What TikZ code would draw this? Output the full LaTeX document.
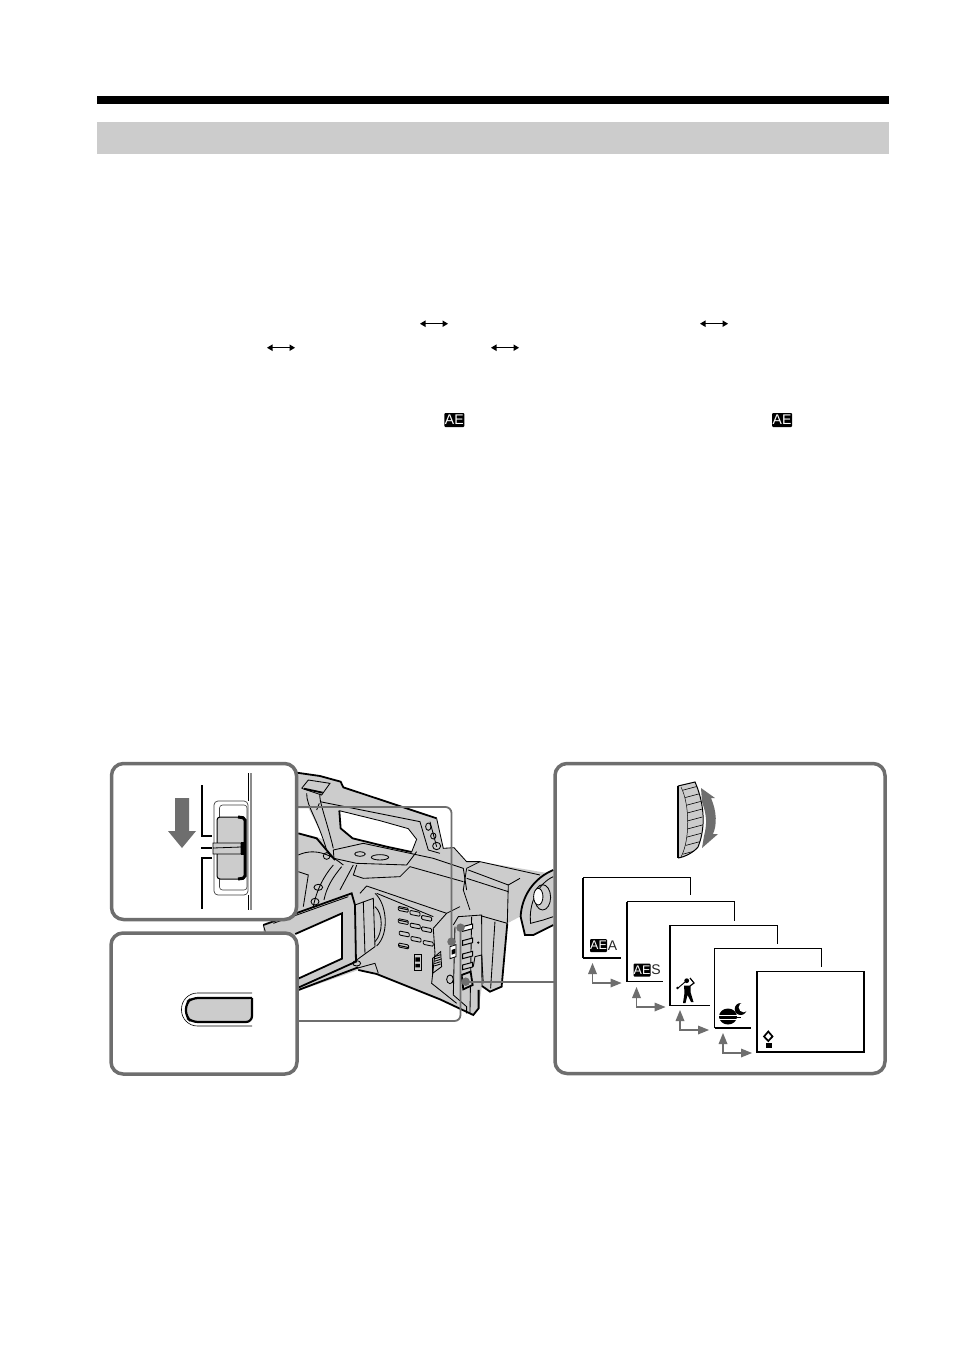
\documentclass[tikz,border=0pt]{standalone}
\usepackage{fontspec}
\setmainfont{Liberation Sans}
\usetikzlibrary{calc,positioning}
\definecolor{panelgray}{HTML}{6E6E6E}
\definecolor{bodygray}{HTML}{CCCCCC}
\tikzset{
  panel/.style    = {draw=panelgray, fill=white, line width=3.5pt, rounded corners=12pt},
  callout/.style  = {panelgray, line width=1.8pt, rounded corners=6pt},
  calldot/.style  = {circle, fill=panelgray, inner sep=0pt, minimum size=8.5pt},
  outline/.style  = {black, line width=.85pt},
  heavy/.style    = {black, line width=1.8pt},
  screen/.style   = {black, line width=1.1pt},
  screenleft/.style = {black, line width=1.9pt},
  elbow/.style    = {panelgray, line width=1.8pt},
  aetag/.style    = {fill=black, text=white, inner sep=0pt, rounded corners=1pt},
  aeletter/.style = {font=\fontsize{14}{14}\selectfont, inner sep=0pt, text=black!85},
  dblarrow/.style = {black, line width=1pt},
}
\begin{document}
\begin{tikzpicture}[x=1pt, y=-1pt]
    \useasboundingbox (0,0) rectangle (954,1352);
    \fill[black] (97,96) rectangle (889,103.5);
    \fill[black!20] (97,122) rectangle (889,154);

    % double arrows and tags in the running text
    \foreach \px/\py in {434/323.7, 714/323.7, 281/347.7, 505/347.7} {
        \draw[dblarrow] (\px-12,\py) -- (\px+12,\py);
        \fill (\px-14,\py) -- ++(5.5,-3.3) -- ++(0,6.6) -- cycle
              (\px+14,\py) -- ++(-5.5,-3.3) -- ++(0,6.6) -- cycle;
    }
    \node[aetag, minimum width=20pt, minimum height=14pt, font=\fontsize{14}{14}\selectfont] (tagleft)  at (454.3,420) {AE};
    \node[aetag, minimum width=20pt, minimum height=14pt, font=\fontsize{14}{14}\selectfont] (tagright) at (782,420) {AE};

    % camera, traced in thirds of a pixel
    \begin{scope}[shift={(100,750)}, x=.3333pt, y=-.3333pt]
        \fill[bodygray] (590,68) -- (660,78) -- (722,95) -- (730,112) -- (1010,205)
            -- (1020,250) -- (1030,295) -- (1062,293) -- (1100,335) -- (1140,335)
            -- (1360,372) -- (1360,525) -- (1300,555) -- (1275,555) -- (1260,500)
            -- (1222,520) -- (1205,710) -- (1170,725) -- (1146,708) -- (1136,775)
            -- (1120,795) -- (1020,748) -- (830,672) -- (775,660) -- (590,725) -- cycle;
        \fill[bodygray] (490,525) -- (755,430) -- (770,640) -- (590,725) -- (490,570) -- cycle;
        % white openings
        \fill[white] (590,175) -- (625,175) -- (645,215) -- (672,268) -- (640,258)
            -- (590,248) -- cycle;
        \fill[white] (718,182) -- (722,235) -- (758,265) -- (860,290) -- (935,306)
            -- (950,268) -- (925,236) -- (840,212) -- cycle;
        \fill[white] (586,552) -- (726,490) -- (726,626) -- (586,690) -- cycle;
        % silhouette
        \draw[heavy] (590,68) -- (660,78) -- (722,95) -- (730,112) -- (1010,205);
        \draw[outline] (1010,205) -- (1020,250) -- (1030,295) -- (1062,293) -- (1100,335)
            -- (1140,335) -- (1320,375);
        \draw[heavy] (1222,520) -- (1205,710) -- (1170,725) -- (1146,708);
        \draw[heavy] (1136,720) -- (1136,775) -- (1120,795) -- (1020,748) -- (830,672)
            -- (775,660);
        % shoe
        \draw[outline] (605,115) -- (625,90) -- (690,100) -- (665,135) -- (605,115);
        \draw[heavy] (612,116) -- (668,128);
        % handle
        \draw[outline] (620,130) .. controls (620,170) and (650,200) .. (680,300);
        \draw[outline] (660,130) .. controls (655,150) and (680,210) .. (700,295);
        \draw[outline] (660,155) -- (960,215) -- (985,300) -- (1020,310);
        \draw[outline] (650,180) -- (658,160);
        \draw[heavy] (718,182) -- (722,235) -- (758,265) -- (860,290) -- (935,306);
        \draw[outline] (935,306) -- (950,268) -- (925,236) -- (840,212) -- (718,182);
        \draw[outline] (990,215) -- (1010,290);
        \draw[outline] (985,230) ellipse (8 and 11) (1000,258) ellipse (8 and 9) (1010,288) ellipse (12 and 11);
        \draw[outline] (680,318) circle (10);
        % top plate
        \draw[outline] (700,300) -- (790,280) -- (1000,325) -- (1090,355) -- (1100,420);
        \draw[outline] (700,300) -- (702,325) -- (770,340) -- (920,345) -- (950,305);
        \draw[outline] (770,345) -- (760,375) -- (790,385) -- (900,380) -- (930,350) -- (1090,395);
        \draw[outline] (780,312) ellipse (16 and 7) (840,322) ellipse (26 and 8);
        % lens
        \draw[heavy] (595,250) -- (650,265) -- (705,330);
        \draw[outline] (595,315) .. controls (650,290) and (700,320) .. (730,345);
        \draw[outline] (700,345) .. controls (670,380) and (650,420) .. (640,470);
        \draw[outline] (725,350) .. controls (700,380) and (680,410) .. (672,450);
        \draw[outline] (595,365) -- (625,375) -- (610,470);
        \draw[outline] (655,412) ellipse (13 and 9) (645,455) ellipse (12 and 10);
        \draw[outline] (760,345) -- (720,420);
        % finder
        \draw[outline] (1100,355) -- (1090,420) -- (1110,480);
        \draw[outline] (1100,385) -- (1225,425) (1105,360) -- (1225,405) -- (1260,385);
        \draw[outline] (1140,335) -- (1100,355);
        \draw[outline] (1225,405) -- (1222,520);
        \draw[outline] (1145,498) -- (1222,520);
        % eyecup
        \fill[bodygray] (1360,360) .. controls (1300,385) and (1265,440) .. (1262,500)
            -- (1275,555) -- (1300,555) -- (1360,525) -- cycle;
        \draw[heavy] (1360,360) .. controls (1300,385) and (1265,440) .. (1262,500)
            -- (1275,555) -- (1300,555) -- (1360,525);
        \draw[outline] (1360,380) .. controls (1315,400) and (1285,460) .. (1292,520)
            -- (1330,510) -- (1360,500);
        \draw[outline] (1328,442) ellipse (24 and 38);
        \fill[white] (1315,440) ellipse (14 and 25);
        \draw[outline] (1315,440) ellipse (14 and 25);
        % rear panel
        \draw[outline] (780,430) -- (800,408) -- (1040,490) -- (1080,470);
        \draw[outline] (1000,535) -- (1040,490);
        \draw[outline] (1000,535) -- (1005,610);
        \draw[outline] (830,430) -- (1000,500);
        \draw[outline] (825,430) .. controls (860,460) and (870,550) .. (830,588);
        \draw[outline] (825,470) .. controls (850,490) and (850,550) .. (825,575);
        % side grip
        \draw[outline] (1005,610) -- (995,700) -- (1070,760);
        \draw[outline] (1060,525) -- (1075,500) -- (1145,495) -- (1146,708);
        \draw[outline] (1065,530) -- (1060,735) -- (1100,770) -- (1100,790);
        \draw[outline] (1115,500) -- (1110,790);
        \draw[outline] (1185,515) -- (1172,715);
        \draw[outline] (1120,650) -- (1125,620) -- (1145,615) -- (1150,700);
        % buttons
        \foreach \bx/\by in {910/478, 945/490, 980/505, 910/515, 946/528, 980/539, 913/552, 948/568, 985/580, 911/588}
            \draw[outline, rounded corners=1pt] (\bx-15,\by-9) -- (\bx+15,\by-3)
                -- (\bx+15,\by+9) -- (\bx-15,\by+3) -- cycle;
        \fill (896,472) -- (924,478) -- (924,481) -- (896,475) -- cycle
              (896,509) -- (924,515) -- (924,518) -- (896,512) -- cycle
              (897,585) -- (925,591) -- (925,594) -- (897,588) -- cycle;
        \draw[outline] (942,612) rectangle (964,660);
        \fill (946,622) rectangle (960,635) (946,642) rectangle (960,652);
        \draw[outline] (998,625) -- (1022,605) -- (1025,650) -- (998,670) -- cycle;
        \foreach \gy in {620,627,...,650}
            \draw[outline] (1003,\gy) -- (1022,\gy-6);
        \draw[outline] (1050,688) ellipse (10 and 13);
        \fill[white, draw=black, line width=.85pt] (1050,590) -- (1068,584) -- (1068,620) -- (1050,626) -- cycle;
        \fill (1055,600) -- (1066,596) -- (1066,610) -- (1055,614) -- cycle;
        % right hand keys
        \foreach \ky/\kfill in {530/white,572/bodygray,612/bodygray,645/bodygray}
            \draw[fill=\kfill, line width=1pt] (1088,\ky) -- (1118,\ky-8)
                -- (1118,\ky+6) -- (1088,\ky+14) -- cycle;
        \draw[heavy, fill=bodygray] (1085,675) -- (1112,665) -- (1118,705) -- (1090,718) -- cycle;
        \draw[outline] (1135,578) circle (2);
        % lcd panel
        \draw[heavy] (490,525) -- (755,430) -- (765,465) -- (768,635) -- (597,712);
        \draw[outline] (520,520) -- (745,440);
        \draw[heavy] (586,552) -- (726,490) -- (726,626) -- (586,690);
        \draw[outline] (765,465) -- (820,445) -- (825,590) -- (770,630);
        \draw[outline] (790,455) -- (795,610);
        \draw[outline] (770,640) ellipse (12 and 8);
        \draw[outline] (770,655) -- (825,640) -- (835,670);
        \draw[heavy] (590,722) -- (775,652);
        \draw[outline] (490,525) -- (496,545);
    \end{scope}

    % callouts from the panels
    \coordinate (dotswitch) at (451.5,941.7);
    \coordinate (dotbutton) at (460.5,927.7);
    \coordinate (dotdial) at (465.7,981.7);
    \draw[callout] (297,807) -| (dotswitch);
    \draw[callout] (297,1021) -| (dotbutton);
    \draw[callout] (dotdial) -- (555,981.7);
    \node[calldot] (dota) at (dotswitch) {};
    \node[calldot] (dotb) at (dotbutton) {};
    \node[calldot] (dotc) at (dotdial) {};

    % panels
    \node[panel, minimum width=185pt, minimum height=156pt] (switchpanel) at (204,841.5) {};
    \node[panel, minimum width=186pt, minimum height=141pt] (buttonpanel) at (204,1003.5) {};
    \node[panel, minimum width=330pt, minimum height=310pt] (dialpanel) at (720,918.5) {};

    % switch
    \draw[black, line width=2.7pt] (202,785) -- (202,836) -- (212,836);
    \draw[black, line width=2.7pt] (201,848) -- (212,848);
    \draw[black, line width=2.7pt] (212,858) -- (202,858) -- (202,909);
    \draw[black, line width=.7pt] (248,773) -- (248,801);
    \draw[black!45, line width=1.2pt] (251,773) -- (251,910);
    \draw[black, line width=.7pt] (248,895) -- (248,910);
    \draw[black!75, line width=.7pt, rounded corners=4pt] (214,801) rectangle (248,895);
    \draw[black!75, line width=.6pt, rounded corners=3pt] (219.5,805) rectangle (247,890);
    \fill[bodygray, rounded corners=3pt] (217,817) rectangle (245,879);
    \draw[black, line width=1pt, rounded corners=3pt] (217,817) rectangle (245,879);
    \draw[black, line width=3pt, rounded corners=2pt] (238,817) -- (245,818) -- (245,878) -- (238,879);
    \fill[bodygray] (213,843) rectangle (241,854);
    \draw[black, line width=.8pt] (213,843) rectangle (241,854) (213,848) -- (241,847);
    \fill[black] (241,842) rectangle (246,855);
    \fill[panelgray] (175,798) -- (189,798) -- (189,831) -- (196,831) -- (182,848)
        -- (168,831) -- (175,831) -- cycle;

    % button
    \draw[black, line width=.6pt, rounded corners=16pt] (252,993) -| (181.5,1026) -- (252,1026);
    \fill[bodygray, rounded corners=6pt] (186,998) rectangle (252,1022);
    \draw[black, line width=2.2pt, rounded corners=6pt] (252,998) -- (192,998) -- (186,1003)
        -- (186,1017) -- (192,1022) -- (252,1022) -- (252,998);

    % dial
    \fill[bodygray] (678,786) -- (695,782) .. controls (702,800) and (706,825) .. (698,847)
        .. controls (694,852) and (685,857) .. (678,858) -- cycle;
    \begin{scope}
        \clip (681,786) -- (695,782) .. controls (702,800) and (706,825) .. (698,847)
            .. controls (694,852) and (685,857) .. (681,858)
            .. controls (690,845) and (690,800) .. (681,786);
        \foreach \dy in {788,796,...,860}
            \draw[black, line width=.6pt] (676,\dy+4) -- (706,\dy-4);
    \end{scope}
    \draw[black, line width=1.8pt] (678,786) -- (678,858);
    \draw[black, line width=1pt] (678,786) -- (695,782) .. controls (703,800) and (707,825) .. (698,847)
        .. controls (694,852) and (685,857) .. (678,858);
    \draw[black, line width=.5pt] (681,787) .. controls (690,805) and (690,840) .. (681,857);
    \fill[panelgray] (701,788) -- (715,798) -- (711,798) .. controls (717,812) and (717,825) .. (713,834)
        -- (718,834) -- (702,848) -- (704,836) .. controls (707,825) and (707,815) .. (702,802) -- cycle;

    % screens
    \draw[screenleft] (583,957.5) -- (583,877.5);
    \draw[screen] (583,877.5) -| (690.5,895);
    \draw[screenleft] (583,958) -- (621,958);
    \draw[screenleft] (627,981.5) -- (627,901.5);
    \draw[screen] (627,901.5) -| (734.5,921);
    \draw[screenleft] (627,981.5) -- (663,981.5);
    \draw[screen] (670,1005.5) -- (670,925.5) -| (777.5,944);
    \draw[screen] (670,1005.5) -- (710,1005.5);
    \draw[screen] (714.5,1028) -- (714.5,948.5) -| (821.5,967);
    \draw[screen] (714.5,1028) -- (751,1028);
    \draw[screen, line width=1.2pt] (757,971.5) rectangle (864,1052);

    % screen symbols
    \node[aetag, minimum width=17pt, minimum height=13pt, font=\fontsize{12.5}{13}\selectfont] (tagauto) at (598.5,945.5) {AE};
    \node[aeletter, right=.5pt of tagauto] (lettera) {A};
    \node[aetag, minimum width=17pt, minimum height=13pt, font=\fontsize{12.5}{13}\selectfont] (tagshutter) at (642,970) {AE};
    \node[aeletter, right=.5pt of tagshutter] (letters) {S};

    % golfer
    \fill (686.7,980.7) circle (2.4);
    \fill (684,985.5) -- (690.5,985.5) -- (690.5,992) -- (693.5,1002) -- (691,1002)
        -- (687.5,995) -- (685.5,1003) -- (683,1003) -- (684.5,993) -- cycle;
    \draw[line width=1.2pt] (690,986) -- (694,983) -- (690,978);
    \draw[line width=.9pt] (678,988) -- (685,982);
    \fill (677.5,988) circle (1.4);

    % moon and saturn
    \fill (740.7,1009) circle (6);
    \fill[white] (743.7,1007.3) circle (5);
    \fill (728,1016.5) ellipse (9 and 8);
    \draw[white, line width=1pt] (717,1015) -- (739,1015) (717,1019.5) -- (739,1019.5);
    \draw[black, line width=1pt] (719,1017) -- (741,1017);

    % candle
    \fill (765.5,1042.5) rectangle (771.5,1048);
    \draw[black, line width=1.7pt] (768.3,1031.5) -- (772.5,1036.5) -- (768.3,1041) -- (764,1036.5) -- cycle;

    % elbow arrows between screens
    \foreach \ex/\ey in {592.5/983, 636.5/1007, 680/1030, 723/1053} {
        \draw[elbow] (\ex,\ey-12) -- (\ex,\ey) -- (\ex+18,\ey);
        \fill[panelgray] (\ex,\ey-20) -- ++(4.5,11) -- ++(-9,0) -- cycle
            (\ex+29,\ey) -- ++(-11,-4.5) -- ++(0,9) -- cycle;
    }
\end{tikzpicture}
\end{document}
